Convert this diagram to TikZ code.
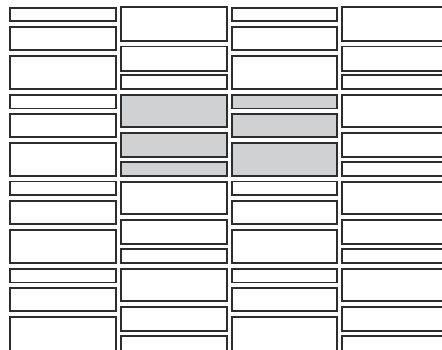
\documentclass[tikz,border=0pt]{standalone}
\definecolor{cellgray}{RGB}{208,209,211}
\definecolor{edgegray}{RGB}{45,45,45}
\begin{document}
\begin{tikzpicture}[x=1pt,y=-1pt,
  cell/.style={draw=edgegray,line width=1.1pt,fill=white},
  shaded/.style={cell,fill=cellgray}]
\useasboundingbox (0,0) rectangle (442,349);
\clip (0,0) rectangle (442,349);
% columns 1 and 3: small / medium / large
\foreach \xa/\xb in {10/116,232/337}{
  \foreach \ya/\yb in {8/21,27/50,56/89,95/108.5,114/137,143/176,181.5/195,201/224,230/263,269/282.5,288/311,317/360}{
    \draw[cell] (\xa,\ya) rectangle (\xb,\yb);
  }
}
% columns 2 and 4: large / medium / small
\foreach \xa/\xb in {121/227,342/460}{
  \foreach \ya/\yb in {7/41,46.5/71,75/89,95/127,133/157,162/176,182/214,220/244,249/263,269/301,307/331,336/360}{
    \draw[cell] (\xa,\ya) rectangle (\xb,\yb);
  }
}
% shaded cells
\draw[shaded] (121,95) rectangle (227,127);
\draw[shaded] (121,133) rectangle (227,157);
\draw[shaded] (121,162) rectangle (227,176);
\draw[shaded] (232,95) rectangle (337,108.5);
\draw[shaded] (232,114) rectangle (337,137);
\draw[shaded] (232,143) rectangle (337,176);
\end{tikzpicture}
\end{document}
